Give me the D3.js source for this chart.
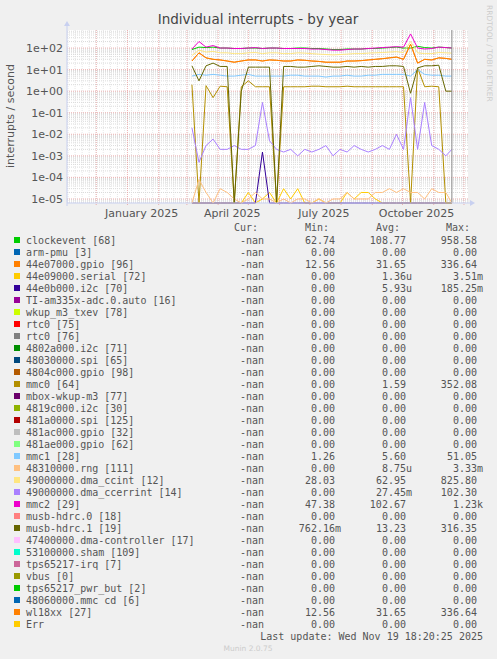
<!DOCTYPE html>
<html><head><meta charset="utf-8">
<script src="https://cdn.jsdelivr.net/npm/d3@7"></script>
<style>
body { margin:0; background:#f0f0f0; }
text { font-family: "DejaVu Sans", sans-serif; }
.mono { font-family: "DejaVu Sans Mono", monospace; font-size:10px; fill:#555; }
</style></head>
<body><svg id="chart" width="497" height="659"></svg>
<script>
// weekly samples
var dates = ["2025-03-06","2025-03-13","2025-03-20","2025-03-27","2025-04-03","2025-04-10","2025-04-17","2025-04-24",
  "2025-05-01","2025-05-08","2025-05-15","2025-05-22","2025-05-29","2025-06-05","2025-06-12","2025-06-19","2025-06-26",
  "2025-07-03","2025-07-10","2025-07-17","2025-07-24","2025-07-31","2025-08-07","2025-08-14","2025-08-21","2025-08-28",
  "2025-09-04","2025-09-11","2025-09-18","2025-09-25","2025-10-02","2025-10-09","2025-10-16","2025-10-23","2025-10-30",
  "2025-11-06","2025-11-13","2025-11-19"];

var clockevent = [85,110,105,110,100,100,95,95,100,100,95,100,100,95,95,100,100,95,95,90,85,85,90,90,90,95,95,100,105,110,100,100,120,105,100,110,105,100];
var gpio = [25,60,35,30,28,25,22,25,28,28,25,28,27,25,25,28,27,25,24,22,22,22,25,25,26,28,30,32,35,38,30,150,20,30,28,35,33,30];
var serial = [0,0,0,0,0,0,0,0,2e-5,0,1e-5,2e-5,0,3e-5,1e-5,3e-5,0,0,1e-5,0,0,0,2e-5,1e-5,2e-5,2e-5,1e-5,0,0,0,0,0,0,0,0,0,0,0];
var i2c = [0,0,0,0,0,0,0,0,0,0,1.5e-3,0,0,0,0,0,0,0,0,0,0,0,0,0,0,0,0,0,0,0,0,0,0,0,0,0,0,0];
var mmc0 = [2,0,1.8,0.5,1.7,1.6,0,1.6,3,1.6,1.6,1.6,0,1.6,1.6,1.6,1.6,1.7,1.7,1.6,1.6,1.6,1.7,1.6,1.6,1.6,1.6,1.6,1.6,1.6,1.6,0,12,1.6,1.7,1.6,0,0];
var mmc1 = [5,6,5.5,6,5.5,5,5,5.5,6,5,5,5,5,5,5.5,5.5,5,5,5,4.5,5,5,5.5,5,5,5.5,5.5,6,6,6,6,5,10,6,5.5,5.5,5,5];
var rng = [0,8e-5,2e-5,0,3e-5,2e-5,1e-5,0,1e-5,2e-5,1e-5,1e-5,0,1e-5,0,1e-5,1e-5,0,1e-5,0,1e-5,1e-5,2e-5,1e-5,1e-5,1e-5,2e-5,2e-5,3e-5,2e-5,3e-5,2e-5,2e-5,1e-5,3e-5,2e-5,2e-5,0];
var ccint = [45,80,65,70,60,60,55,55,60,62,55,60,60,55,55,60,58,55,52,50,48,50,52,55,55,58,60,62,65,68,62,200,60,55,55,62,60,58];
var ccerrint = [0.02,0.0005,0.003,0.006,0.002,0.002,0.003,0.002,0.002,0.003,0.3,0.005,0.002,0.0015,0.002,0.001,0.002,0.0015,0.002,0.003,0.001,0.002,0.0015,0.003,0.002,0.0015,0.002,0.003,0.002,0.01,0.002,0.5,0.002,0.3,0.003,0.002,0.001,0.002];
var mmc2 = [90,200,110,130,100,100,95,95,100,105,95,100,100,95,95,95,95,90,90,85,80,80,85,90,90,95,100,105,110,115,110,450,100,90,95,110,105,100];
var musb1 = [15,3,15,20,14,14,0,1,13,13,13,13,0,14,14,13,13,14,15,14,13,13,14,13,14,13,14,14,15,15,14,0.8,12,15,15,16,1,1];

var yTicks = [1e2,1e1,1e0,1e-1,1e-2,1e-3,1e-4,1e-5];
var yTickLabels = ["1e+02","1e+01","1e+00","1e-01","1e-02","1e-03","1e-04","1e-05"];
var xTickDates = ["2025-01-15","2025-04-15","2025-07-15","2025-10-15"];
var xTickLabels = ["January 2025","April 2025","July 2025","October 2025"];

var legendNames = ["clockevent [68]","arm-pmu [3]","44e07000.gpio [96]","44e09000.serial [72]","44e0b000.i2c [70]",
  "TI-am335x-adc.0.auto [16]","wkup_m3_txev [78]","rtc0 [75]","rtc0 [76]","4802a000.i2c [71]","48030000.spi [65]",
  "4804c000.gpio [98]","mmc0 [64]","mbox-wkup-m3 [77]","4819c000.i2c [30]","481a0000.spi [125]","481ac000.gpio [32]",
  "481ae000.gpio [62]","mmc1 [28]","48310000.rng [111]","49000000.dma_ccint [12]","49000000.dma_ccerrint [14]",
  "mmc2 [29]","musb-hdrc.0 [18]","musb-hdrc.1 [19]","47400000.dma-controller [17]","53100000.sham [109]",
  "tps65217-irq [7]","vbus [0]","tps65217_pwr_but [2]","48060000.mmc cd [6]","wl18xx [27]","Err"];
var legendColors = ["#00cc00","#0066b3","#ff8000","#ffcc00","#330099","#990099","#ccff00","#ff0000","#808080",
  "#008f00","#00487d","#b35a00","#b38f00","#6b006b","#8fb300","#b30000","#bebebe","#80ff80","#80c9ff","#ffc080",
  "#ffe680","#aa80ff","#ee00cc","#ff8080","#666600","#ffbfff","#00ffcc","#cc6699","#999900","#00cc00","#0066b3",
  "#ff8000","#ffcc00"];
var legendMin = ["62.74","0.00","12.56","0.00","0.00","0.00","0.00","0.00","0.00","0.00","0.00","0.00","0.00","0.00",
  "0.00","0.00","0.00","0.00","1.26","0.00","28.03","0.00","47.38","0.00","762.16m","0.00","0.00","0.00","0.00","0.00","0.00","12.56","0.00"];
var legendAvg = ["108.77","0.00","31.65","1.36u","5.93u","0.00","0.00","0.00","0.00","0.00","0.00","0.00","1.59","0.00",
  "0.00","0.00","0.00","0.00","5.60","8.75u","62.95","27.45m","102.67","0.00","13.23","0.00","0.00","0.00","0.00","0.00","0.00","31.65","0.00"];
var legendMax = ["958.58","0.00","336.64","3.51m","185.25m","0.00","0.00","0.00","0.00","0.00","0.00","0.00","352.08","0.00",
  "0.00","0.00","0.00","0.00","51.05","3.33m","825.80","102.30","1.23k","0.00","316.35","0.00","0.00","0.00","0.00","0.00","0.00","336.64","0.00"];

// series drawn in legend order (later on top)
var drawn = [
  {v: clockevent, c: "#00cc00"}, {v: gpio, c: "#ff8000"}, {v: serial, c: "#ffcc00"}, {v: i2c, c: "#330099"},
  {v: mmc0, c: "#b38f00"}, {v: mmc1, c: "#80c9ff"}, {v: rng, c: "#ffc080"}, {v: ccint, c: "#ffe680"},
  {v: ccerrint, c: "#aa80ff"}, {v: mmc2, c: "#ee00cc"}, {v: musb1, c: "#666600"}, {v: gpio, c: "#ff8000"}
];

var parse = d3.timeParse("%Y-%m-%d");
var pLeft = 67, pRight = 468, pTop = 30, pBottom = 203;
var svg = d3.select("#chart");

var x = d3.scaleTime().domain([parse("2024-11-02"), parse("2025-12-05")]).range([pLeft, pRight]);
var y = d3.scaleLog().domain([6.5e-6, 686]).range([pBottom, pTop]).clamp(true);
function yv(v) { return v <= 0 ? pBottom : y(v); }

svg.append("rect").attr("x", pLeft).attr("y", pTop).attr("width", pRight - pLeft).attr("height", pBottom - pTop).attr("fill", "#fff");

// grid
var g = svg.append("g");
for (var e = -6; e <= 2; e++) {
  for (var k = 1; k <= 9; k++) {
    var val = k * Math.pow(10, e);
    if (val < 6.5e-6 || val > 686) continue;
    g.append("line").attr("x1", pLeft).attr("x2", pRight).attr("y1", y(val)).attr("y2", y(val))
      .attr("stroke", k == 1 ? "#e8a0a0" : "#d0d0d0").attr("stroke-width", 0.8).attr("stroke-dasharray", "1,1");
  }
}
d3.timeWeek.range(x.domain()[0], x.domain()[1]).forEach(function(d) {
  g.append("line").attr("x1", x(d)).attr("x2", x(d)).attr("y1", pTop).attr("y2", pBottom)
    .attr("stroke", "#dcdcdc").attr("stroke-width", 0.7).attr("stroke-dasharray", "1,1");
});
d3.timeMonth.range(x.domain()[0], x.domain()[1]).forEach(function(d) {
  g.append("line").attr("x1", x(d)).attr("x2", x(d)).attr("y1", pTop).attr("y2", pBottom + 3)
    .attr("stroke", "#e8a0a0").attr("stroke-width", 0.8).attr("stroke-dasharray", "1,1");
});

// series
var line = d3.line().x(function(d, i) { return x(parse(dates[i])); }).y(function(d) { return yv(d); });
drawn.forEach(function(s) {
  svg.append("path").attr("d", line(s.v)).attr("fill", "none").attr("stroke", s.c).attr("stroke-width", 1);
});

// now marker
svg.append("line").attr("x1", x(parse("2025-11-19"))).attr("x2", x(parse("2025-11-19")))
  .attr("y1", pTop).attr("y2", pBottom).attr("stroke", "#888").attr("stroke-width", 1);

// axes frame
svg.append("line").attr("x1", pLeft).attr("x2", pRight + 5).attr("y1", pBottom).attr("y2", pBottom).attr("stroke", "#c8d0f0");
svg.append("line").attr("x1", pLeft).attr("x2", pLeft).attr("y1", pTop - 6).attr("y2", pBottom + 3).attr("stroke", "#c8d0f0");
svg.append("path").attr("d", "M" + (pRight + 7) + "," + pBottom + "l-5,-3v6z").attr("fill", "#c8d0f0");
svg.append("path").attr("d", "M" + pLeft + "," + (pTop - 9) + "l-3,5h6z").attr("fill", "#c8d0f0");

svg.selectAll(".yt").data(yTicks).enter().append("text").attr("class", "yt")
  .attr("x", 63).attr("y", function(d) { return y(d) + 4; }).attr("text-anchor", "end")
  .attr("font-size", 11).attr("fill", "#555").text(function(d, i) { return yTickLabels[i]; });
svg.selectAll(".xt").data(xTickDates).enter().append("text").attr("class", "xt")
  .attr("x", function(d) { return x(parse(d)); }).attr("y", 217).attr("text-anchor", "middle")
  .attr("font-size", 11).attr("fill", "#555").text(function(d, i) { return xTickLabels[i]; });

svg.append("text").attr("x", 258).attr("y", 24).attr("text-anchor", "middle").attr("font-size", 13.5)
  .attr("fill", "#444").text("Individual interrupts - by year");
svg.append("text").attr("transform", "translate(14,116) rotate(-90)").attr("text-anchor", "middle")
  .attr("font-size", 11).attr("fill", "#555").text("interrupts / second");
svg.append("text").attr("transform", "translate(487,5) rotate(90)").attr("font-size", 7.5)
  .attr("fill", "#ccc").text("RRDTOOL / TOBI OETIKER");

// legend
[["Cur:", 258], ["Min:", 329], ["Avg:", 400], ["Max:", 470]].forEach(function(h) {
  svg.append("text").attr("class", "mono").attr("x", h[1]).attr("y", 231).attr("text-anchor", "end").text(h[0]);
});
function pad(s) { return /[a-z]$/.test(s) ? s : s + "\u00a0"; }
legendNames.forEach(function(n, i) {
  var yy = 244 + i * 12;
  svg.append("rect").attr("x", 14).attr("y", yy - 7).attr("width", 6).attr("height", 6).attr("fill", legendColors[i]);
  svg.append("text").attr("class", "mono").attr("x", 26).attr("y", yy).text(n);
  svg.append("text").attr("class", "mono").attr("x", 264).attr("y", yy).attr("text-anchor", "end").text("-nan");
  svg.append("text").attr("class", "mono").attr("x", 341).attr("y", yy).attr("text-anchor", "end").text(pad(legendMin[i]));
  svg.append("text").attr("class", "mono").attr("x", 412).attr("y", yy).attr("text-anchor", "end").text(pad(legendAvg[i]));
  svg.append("text").attr("class", "mono").attr("x", 483).attr("y", yy).attr("text-anchor", "end").text(pad(legendMax[i]));
});
svg.append("text").attr("class", "mono").attr("x", 483).attr("y", 640).attr("text-anchor", "end")
  .text("Last update: Wed Nov 19 18:20:25 2025");
svg.append("text").attr("x", 248).attr("y", 651).attr("text-anchor", "middle").attr("font-size", 7.5)
  .attr("fill", "#ccc").text("Munin 2.0.75");
</script></body></html>
